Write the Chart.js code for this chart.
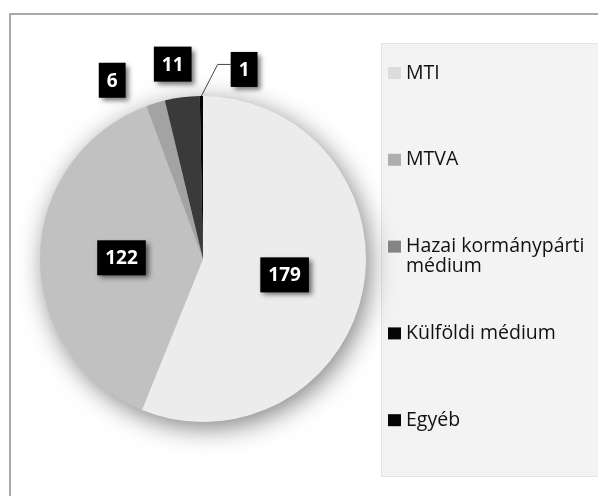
<!DOCTYPE html>
<html>
<head>
<meta charset="utf-8">
<script src="https://cdn.jsdelivr.net/npm/chart.js@4.4.1/dist/chart.umd.min.js"></script>
<style>
  html, body { margin: 0; padding: 0; background: #fff; }
</style>
</head>
<body>
<canvas id="chart" width="598" height="496"></canvas>
<script>
// chart data
const categories = ['MTI', 'MTVA', 'Hazai kormánypárti médium', 'Külföldi médium', 'Egyéb'];
const values = [179, 122, 6, 11, 1];
const sliceColors = ['#ececec', '#c1c1c1', '#a3a3a3', '#3a3a3a', '#050505'];
const legendColors = ['#dcdcdc', '#aeaeae', '#848484', '#050505', '#050505'];

// where each value box sits: r = share of the radius, da = degrees off the slice middle
const labelPlacement = [
  { r: 0.51, da: 0 },
  { r: 0.50, da: 0 },
  { r: 1.23, da: -10 },
  { r: 1.21, da: -1.5 },
  { r: 1.19, da: 12.8, leader: true }
];

// frame, legend panel and the soft pie shadow
const backdrop = {
  id: 'backdrop',
  beforeDraw(chart) {
    const ctx = chart.ctx;
    ctx.save();
    ctx.fillStyle = '#fff';
    ctx.fillRect(0, 0, chart.width, chart.height);
    ctx.strokeStyle = '#a9a9a9';
    ctx.lineWidth = 2;
    ctx.strokeRect(10, 14, chart.width + 20, chart.height + 20);
    ctx.fillStyle = '#f3f3f3';
    ctx.fillRect(381, 43, 240, 434);
    ctx.strokeStyle = '#e3e3e3';
    ctx.lineWidth = 1;
    ctx.strokeRect(381.5, 43.5, 240, 433);
    ctx.restore();
  },
  beforeDatasetsDraw(chart) {
    const ctx = chart.ctx;
    const arc = chart.getDatasetMeta(0).data[0];
    const { x, y, outerRadius } = arc.getProps(['x', 'y', 'outerRadius'], true);
    ctx.save();
    ctx.shadowColor = 'rgba(0,0,0,0.5)';
    ctx.shadowBlur = 26;
    ctx.shadowOffsetX = 4;
    ctx.shadowOffsetY = 6;
    ctx.fillStyle = '#d0d0d0';
    ctx.beginPath();
    ctx.arc(x, y, outerRadius - 0.5, 0, Math.PI * 2);
    ctx.fill();
    ctx.restore();
  }
};

// black value boxes with white numbers
const valueBoxes = {
  id: 'valueBoxes',
  afterDatasetsDraw(chart) {
    const ctx = chart.ctx;
    const meta = chart.getDatasetMeta(0);
    ctx.save();
    ctx.font = 'bold 19px "Open Sans"';
    meta.data.forEach((arc, i) => {
      const p = arc.getProps(['x', 'y', 'startAngle', 'endAngle', 'outerRadius'], true);
      const place = labelPlacement[i];
      const mid = (p.startAngle + p.endAngle) / 2;
      const a = mid + place.da * Math.PI / 180;
      const cx = p.x + Math.cos(a) * p.outerRadius * place.r;
      const cy = p.y + Math.sin(a) * p.outerRadius * place.r;
      const text = String(values[i]);
      const w = ctx.measureText(text).width + 16;
      const h = 35;
      const left = cx - w / 2;

      if (place.leader) {
        const ex = p.x + Math.cos(mid) * p.outerRadius;
        const ey = p.y + Math.sin(mid) * p.outerRadius;
        ctx.strokeStyle = '#444';
        ctx.lineWidth = 1;
        ctx.beginPath();
        ctx.moveTo(ex, ey);
        ctx.lineTo(left - 13, cy - 5);
        ctx.lineTo(left, cy - 5);
        ctx.stroke();
      }

      ctx.shadowColor = 'rgba(0,0,0,0.55)';
      ctx.shadowBlur = 5;
      ctx.shadowOffsetX = 3;
      ctx.shadowOffsetY = 3;
      ctx.fillStyle = '#000';
      ctx.fillRect(left, cy - h / 2, w, h);
      ctx.shadowColor = 'transparent';
      ctx.fillStyle = '#fff';
      ctx.textAlign = 'center';
      ctx.textBaseline = 'middle';
      ctx.fillText(text, cx, cy + 1);
    });
    ctx.restore();
  }
};

// legend on the grey panel, long names wrap onto a second line
const sideLegend = {
  id: 'sideLegend',
  afterDraw(chart) {
    const ctx = chart.ctx;
    ctx.save();
    ctx.font = '19.5px "Open Sans"';
    ctx.textBaseline = 'middle';
    ctx.textAlign = 'left';
    const maxW = 188;
    categories.forEach((name, i) => {
      const yc = 73 + i * 86.8;
      ctx.fillStyle = legendColors[i];
      ctx.fillRect(388, yc - 6, 13, 12);
      const words = name.split(' ');
      const lines = [];
      let line = '';
      words.forEach(wd => {
        const test = line ? line + ' ' + wd : wd;
        if (line && ctx.measureText(test).width > maxW) {
          lines.push(line);
          line = wd;
        } else {
          line = test;
        }
      });
      lines.push(line);
      ctx.fillStyle = '#111';
      lines.forEach((l, k) => ctx.fillText(l, 406, yc + k * 20));
    });
    ctx.restore();
  }
};

new Chart(document.getElementById('chart').getContext('2d'), {
  type: 'pie',
  data: {
    labels: categories,
    datasets: [{
      data: values,
      backgroundColor: sliceColors,
      borderWidth: 0
    }]
  },
  options: {
    responsive: false,
    devicePixelRatio: 1,
    animation: false,
    layout: { padding: { left: 40, right: 232, top: 96, bottom: 74 } },
    plugins: {
      legend: { display: false },
      tooltip: { enabled: false }
    }
  },
  plugins: [backdrop, valueBoxes, sideLegend]
});
</script>
</body>
</html>
